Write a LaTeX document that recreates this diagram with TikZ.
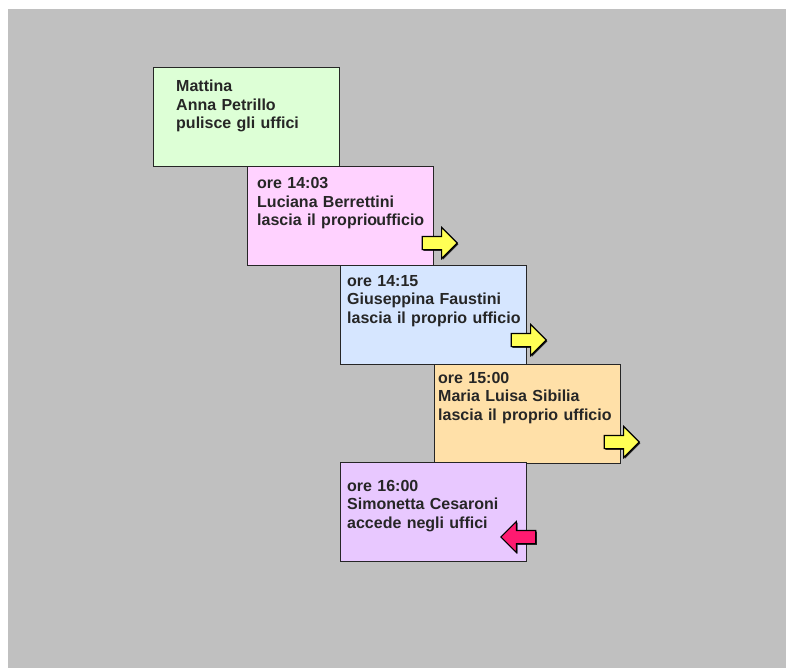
\documentclass[tikz,border=0pt]{standalone}
\usepackage{fontspec}
\setmainfont{Liberation Sans}
\usetikzlibrary{shapes.arrows,shadows}
\definecolor{bggray}{HTML}{C0C0C0}
\definecolor{boxgreen}{HTML}{DDFFD6}
\definecolor{boxpink}{HTML}{FFD2FF}
\definecolor{boxblue}{HTML}{D6E6FF}
\definecolor{boxorange}{HTML}{FFE0A8}
\definecolor{boxpurple}{HTML}{E8C8FF}
\definecolor{arryellow}{HTML}{FFFF55}
\definecolor{arrmagenta}{HTML}{FF1A70}
\tikzset{
  stepbox/.style={rectangle, draw=black!85, line width=1.2pt, anchor=north west,
    minimum width=186pt, minimum height=99pt, inner sep=0pt},
  steptext/.style={anchor=base west, inner sep=0pt, text width=190pt, align=left,
    font=\bfseries\fontsize{16}{18.5}\selectfont, text=black!85},
  blockarrow/.style={single arrow, draw=black, line width=1.1pt, inner xsep=0pt,
    inner ysep=6pt, minimum height=35pt, single arrow head extend=9pt,
    single arrow head indent=0pt, anchor=tip,
    drop shadow={shadow xshift=1.2pt, shadow yshift=-1.2pt, fill=black, opacity=0.8}}
}
\begin{document}
\begin{tikzpicture}[x=1pt,y=-1pt]
\useasboundingbox (0,0) rectangle (786,668);
\fill[white] (0,0) rectangle (786,668);
\fill[bggray] (8,9) rectangle (786,668);

\node[stepbox, fill=boxgreen] (b1) at (153,67) {};
\node[steptext] (t1) at (176,92) {Mattina\\Anna Petrillo\\pulisce gli uffici};

\node[stepbox, fill=boxpink] (b2) at (247,166) {};
\node[steptext] (t2) at (257,189) {ore 14:03\\Luciana Berrettini\\lascia il proprio\kern-1pt ufficio};

\node[stepbox, fill=boxblue] (b3) at (340,265) {};
\node[steptext] (t3) at (347,286) {ore 14:15\\Giuseppina Faustini\\lascia il proprio ufficio};

\node[stepbox, fill=boxorange] (b4) at (434,364) {};
\node[steptext] (t4) at (438,383) {ore 15:00\\Maria Luisa Sibilia\\lascia il proprio ufficio};

\node[stepbox, fill=boxpurple] (b5) at (340,462) {};
\node[steptext] (t5) at (347,491) {ore 16:00\\Simonetta Cesaroni\\accede negli uffici};

\node[blockarrow, fill=arryellow] (a2) at (458,243) {};
\node[blockarrow, fill=arryellow] (a3) at (547,340) {};
\node[blockarrow, fill=arryellow] (a4) at (640,442) {};
\node[blockarrow, fill=arrmagenta, shape border rotate=180] (a5) at (500,537) {};
\end{tikzpicture}
\end{document}
